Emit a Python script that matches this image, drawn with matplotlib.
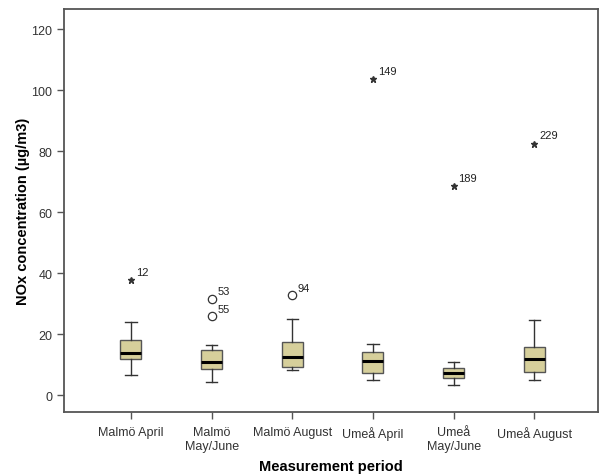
import matplotlib
matplotlib.use("Agg")
import matplotlib.pyplot as plt

plt.rcParams['font.family'] = ['Liberation Sans', 'DejaVu Sans']

# categories
periods = ['Malmö April', 'Malmö\nMay/June', 'Malmö August',
           'Umeå April', 'Umeå\nMay/June', 'Umeå August']

# box statistics (µg/m3)
whislo = [6.6, 4.2, 8.2, 4.9, 3.3, 4.8]
q1 = [11.9, 8.4, 9.1, 7.3, 5.5, 7.5]
med = [13.9, 10.8, 12.5, 11.1, 7.1, 11.9]
q3 = [18.1, 14.6, 17.4, 14.0, 8.8, 15.8]
whishi = [23.8, 16.4, 25.0, 16.8, 10.8, 24.7]

# outliers: (group index, value, case label)
mild_out = [(1, 31.6, '53'), (1, 26.0, '55'), (2, 32.9, '94')]
extreme_out = [(0, 37.6, '12'), (3, 103.6, '149'), (4, 68.5, '189'), (5, 82.4, '229')]

stats = []
for i, name in enumerate(periods):
    stats.append(dict(label=name, whislo=whislo[i], q1=q1[i], med=med[i],
                      q3=q3[i], whishi=whishi[i], fliers=[]))

fig = plt.figure(figsize=(6.04, 4.77), dpi=100)
ax = fig.add_axes([0.106, 0.134, 0.884, 0.845])

pos = list(range(1, len(periods) + 1))
ax.bxp(stats, positions=pos, widths=0.26, patch_artist=True, showfliers=False,
       boxprops=dict(facecolor='#d6cf9b', edgecolor='#555555', linewidth=1.0),
       medianprops=dict(color='black', linewidth=2.2),
       whiskerprops=dict(color='#333333', linewidth=1.0),
       capprops=dict(color='#333333', linewidth=1.0),
       capwidths=0.14)

for g, v, lab in mild_out:
    ax.plot(pos[g], v, 'o', mfc='white', mec='#333333', ms=6, mew=0.9)
    ax.annotate(lab, (pos[g], v), xytext=(4, 3), textcoords='offset points',
                fontsize=8, color='#222222')
for g, v, lab in extreme_out:
    ax.plot(pos[g], v, '*', color='#333333', ms=4.5)
    ax.annotate(lab, (pos[g], v), xytext=(3.5, 4), textcoords='offset points',
                fontsize=8, color='#222222')

ax.set_xlim(0.17, 6.79)
ax.set_ylim(-5.6, 126.6)
ax.set_yticks([0, 20, 40, 60, 80, 100, 120])
ax.set_xticks(pos)
ax.set_xticklabels(periods)

for sp in ax.spines.values():
    sp.set_color('#555555')
    sp.set_linewidth(1.3)
ax.tick_params(direction='out', length=5, width=1, color='#555555',
               labelsize=9, labelcolor='#333333')
ax.tick_params(axis='x', pad=5)

ax.set_xlabel('Measurement period', fontsize=10.5, fontweight='bold', labelpad=5)
ax.set_ylabel('NOx concentration (µg/m3)', fontsize=10.5, fontweight='bold', labelpad=1)

fig.savefig('out.png', dpi=100)
